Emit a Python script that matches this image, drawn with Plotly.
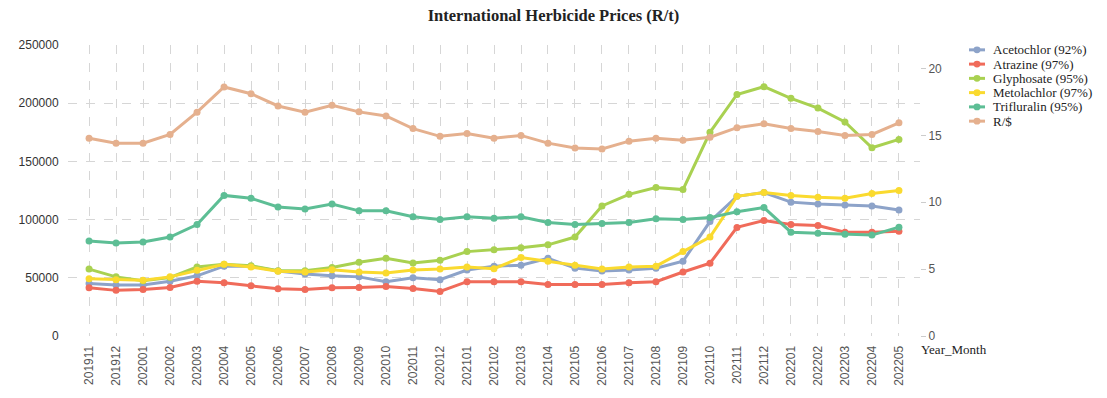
import plotly.graph_objects as go

months = ["201911", "201912", "202001", "202002", "202003", "202004", "202005", "202006",
          "202007", "202008", "202009", "202010", "202011", "202012", "202101", "202102",
          "202103", "202104", "202105", "202106", "202107", "202108", "202109", "202110",
          "202111", "202112", "202201", "202202", "202203", "202204", "202205"]

acetochlor = [45000, 43900, 43900, 47000, 51700, 60000, 60000, 55800, 53300, 51700, 50800,
              46700, 50000, 48300, 56700, 60000, 60800, 66700, 58300, 55800, 56700, 58300,
              64200, 98300, 120000, 123300, 115000, 113300, 112500, 111700, 108300]
atrazine = [41400, 39200, 40000, 41700, 47000, 45800, 43100, 40600, 40000, 41400, 41700,
            42500, 40800, 38300, 46700, 46700, 46700, 44200, 44200, 44200, 45800, 46700,
            55000, 62500, 93300, 99200, 95800, 95000, 89200, 89200, 90000]
glyphosate = [57500, 50800, 47500, 50300, 59200, 61700, 60300, 56100, 56100, 58900, 63300,
              66700, 62800, 65000, 72500, 74200, 75800, 78300, 85000, 111700, 121700, 127500,
              125800, 175000, 207500, 214200, 204200, 195800, 183900, 161700, 168900]
metolachlor = [49200, 48300, 47800, 50800, 56400, 61700, 59200, 55600, 55000, 57000, 55000,
               54200, 56700, 57500, 59200, 57800, 67500, 64200, 60800, 57500, 59200, 60000,
               72500, 85000, 120000, 123300, 120800, 119200, 118300, 122500, 125000]
trifluralin = [81700, 80000, 80800, 85000, 95800, 120800, 118300, 110800, 109200, 113300,
               107500, 107500, 102500, 100000, 102500, 101100, 102500, 97500, 95800, 96700,
               97500, 100800, 100000, 101700, 106700, 110300, 89200, 88300, 87500, 86700, 93500]
rand_usd = [14.78, 14.42, 14.42, 15.07, 16.74, 18.62, 18.12, 17.2, 16.74, 17.25, 16.76,
            16.45, 15.51, 14.93, 15.14, 14.78, 15.0, 14.42, 14.06, 13.99, 14.57, 14.78,
            14.64, 14.86, 15.58, 15.87, 15.51, 15.29, 15.0, 15.07, 15.94]

names = ["Acetochlor (92%)", "Atrazine (97%)", "Glyphosate (95%)", "Metolachlor (97%)",
         "Trifluralin (95%)", "R/$"]
colors = ["#8DA3C9", "#F06B5A", "#A9D151", "#FADA2F", "#5DBE95", "#E5B08E"]
values = [acetochlor, atrazine, glyphosate, metolachlor, trifluralin, rand_usd]
axes = ["y", "y", "y", "y", "y", "y2"]

W, H = 1107, 398
L, R, T, B = 68, 187, 45, 53
PW, PH = W - L - R, H - T - B


def px_x(x):
    return (x - L) / PW


def px_y(y):
    return (H - B - y) / PH


fig = go.Figure()
for name, vals, color, ax in zip(names, values, colors, axes):
    fig.add_trace(go.Scatter(
        x=months, y=vals, name=name, mode="lines+markers", yaxis=ax,
        line=dict(color=color, width=3),
        marker=dict(color=color, size=7),
        showlegend=False,
    ))

# custom compact legend (line + dot + label)
shapes = []
annotations = []
for i, (name, color) in enumerate(zip(names, colors)):
    yy = 50 + 14.7 * i
    shapes.append(dict(type="line", xref="paper", yref="paper",
                       x0=px_x(969), x1=px_x(985), y0=px_y(yy), y1=px_y(yy),
                       line=dict(color=color, width=3)))
    shapes.append(dict(type="circle", xref="paper", yref="paper",
                       x0=px_x(973.5), x1=px_x(980.5), y0=px_y(yy + 3.5), y1=px_y(yy - 3.5),
                       fillcolor=color, line=dict(color=color, width=0)))
    annotations.append(dict(text=name, xref="paper", yref="paper", x=px_x(991), y=px_y(yy),
                            xanchor="left", yanchor="middle", showarrow=False,
                            font=dict(family="Liberation Serif", size=13, color="#222")))

annotations.append(dict(text="Year_Month", xref="paper", yref="paper", x=px_x(919),
                        y=px_y(359), xanchor="left", yanchor="middle", showarrow=False,
                        font=dict(family="Liberation Serif", size=13, color="#222")))

grid = "#d6d6d6"
fig.update_layout(
    width=W, height=H,
    margin=dict(l=L, r=R, t=T, b=B),
    paper_bgcolor="white", plot_bgcolor="white",
    title=dict(text="<b>International Herbicide Prices (R/t)</b>", x=0.5, xref="container",
               xanchor="center", y=1 - 15 / H, yanchor="middle",
               font=dict(family="Liberation Serif", size=16.5, color="#222")),
    xaxis=dict(type="category", range=[-0.78, 30.78], showgrid=True, gridcolor=grid,
               griddash="dash", gridwidth=1, tickangle=-90, zeroline=False, showline=False,
               tickfont=dict(family="Liberation Sans", size=12, color="#555"),
               ticks="outside", ticklen=4, tickcolor="rgba(0,0,0,0)"),
    yaxis=dict(range=[0, 250000], dtick=50000, showgrid=True, gridcolor=grid, griddash="dash",
               zeroline=False, showline=False, tickformat="d",
               tickfont=dict(family="Liberation Sans", size=12, color="#333"),
               ticks="outside", ticklen=6, tickcolor="rgba(0,0,0,0)"),
    yaxis2=dict(range=[0, 21.76], dtick=5, overlaying="y", side="right", showgrid=False,
                zeroline=False, showline=False,
                tickfont=dict(family="Liberation Sans", size=12, color="#555"),
                ticks="outside", ticklen=5, tickcolor="#cccccc"),
    showlegend=False,
    shapes=shapes,
    annotations=annotations,
)

fig.write_html("out.html", config={"displayModeBar": False},
               post_script="document.body.style.margin='0px';document.body.style.overflow='hidden';")
